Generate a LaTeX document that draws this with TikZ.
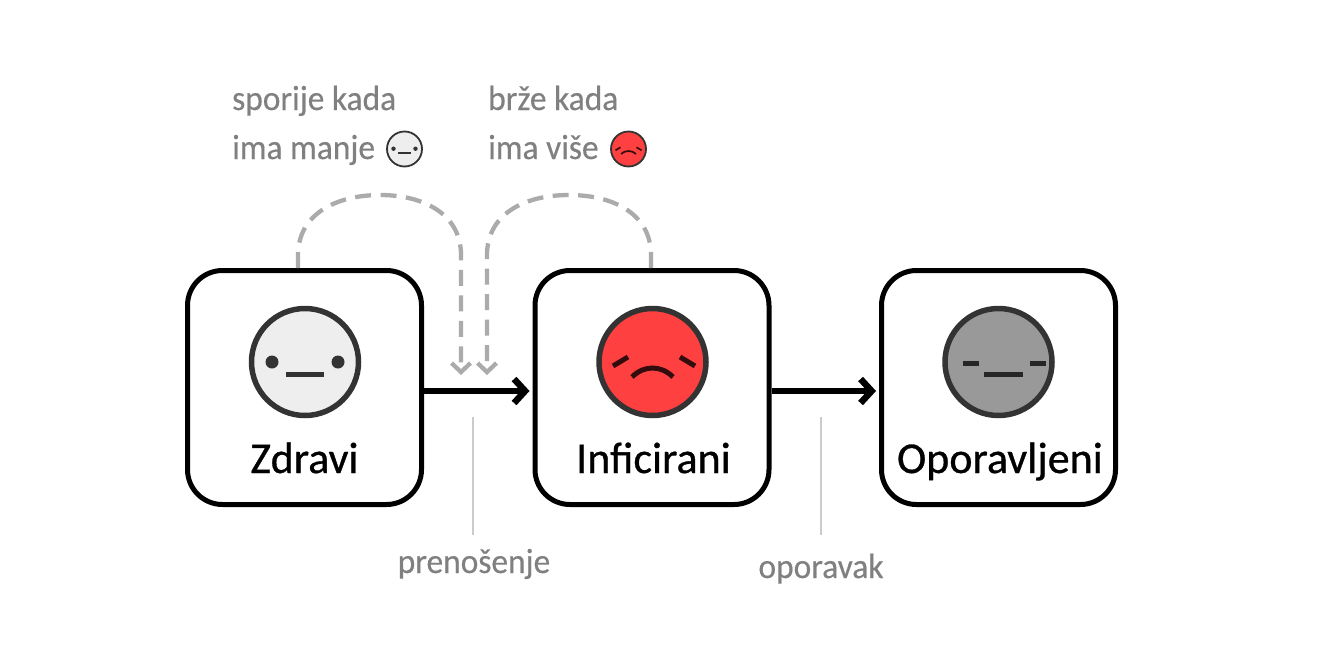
\documentclass[tikz,border=0pt]{standalone}
\usepackage{fontspec}
\setmainfont{Carlito}
\newfontfamily\notefont[FakeStretch=0.955,FakeBold=0.4]{Carlito}
\newfontfamily\titlefont[FakeBold=0.7]{Carlito}
\usetikzlibrary{arrows.meta}
\tikzset{
  boxnode/.style={draw=black,line width=5pt,fill=white,rounded corners=35pt,minimum width=234pt,minimum height=234pt,inner sep=0pt},
  facenode/.style={circle,draw=facedark,line width=5.5pt,minimum size=107pt,inner sep=0pt},
  smallface/.style={circle,draw=facedark,line width=1.8pt,minimum size=35pt,inner sep=0pt},
  bigtext/.style={anchor=base,font=\titlefont\fontsize{44}{44}\selectfont,text=black,inner sep=0pt},
  notetext/.style={anchor=base west,font=\notefont\fontsize{35}{35}\selectfont,text=notegray,inner sep=0pt},
  flowarrow/.style={line width=6.5pt,draw=black,-{Straight Barb[length=11pt,width=24pt]}},
  feedback/.style={line width=4.3pt,draw=dashgray,dash pattern=on 16pt off 9.5pt,-{Straight Barb[length=9pt,width=19pt]}},
  leader/.style={line width=1.4pt,draw=leadergray},
}
\definecolor{facedark}{HTML}{333333}
\definecolor{notegray}{HTML}{808080}
\definecolor{dashgray}{HTML}{ABABAB}
\definecolor{leadergray}{HTML}{CCCCCC}
\definecolor{healthy}{HTML}{EEEEEE}
\definecolor{sick}{HTML}{FF4040}
\definecolor{recovered}{HTML}{999999}
\begin{document}
\begin{tikzpicture}[x=1pt,y=-1pt]
\useasboundingbox (0,0) rectangle (1333,667);
\node[boxnode] (zd) at (304.5,387.5) {};
\node[boxnode] (in) at (652,387.5) {};
\node[boxnode] (op) at (998.5,387.5) {};
\coordinate (t1) at (461,375);
\coordinate (t2) at (487,375);
\coordinate (p1) at (473,417);
\coordinate (p2) at (821,417);
\draw[feedback] ([xshift=-6.5pt]zd.north) -- (298,255) .. controls (298,215) and (335,195) .. (380,195) .. controls (425,195) and (461,215) .. (461,255) -- (t1);
\draw[feedback] ([xshift=-1pt]in.north) -- (651,255) .. controls (651,215) and (615,195) .. (569,195) .. controls (523,195) and (487,215) .. (487,255) -- (t2);
\draw[flowarrow] ([yshift=-3.5pt]zd.east) -- ([yshift=-3.5pt,xshift=-3pt]in.west);
\draw[flowarrow] ([yshift=-3.5pt]in.east) -- ([yshift=-3.5pt,xshift=-3pt]op.west);
% large faces
\node[facenode,fill=healthy] (f1) at (305,362) {};
\fill[facedark] (272,362) circle (6.5pt) (338,362) circle (6.5pt);
\draw[facedark,line width=5pt] (286,374) -- (324,374);
\node[facenode,fill=sick] (f2) at (652.5,362) {};
\draw[black!80!sick,line width=5pt] (613,366) -- (628,357) (680,357) -- (695,366);
\draw[black!80!sick,line width=5pt] (632,377) .. controls (644,365) and (661,365) .. (673,377);
\node[facenode,fill=recovered] (f3) at (998.5,362) {};
\draw[black!85,line width=5pt] (963,363) -- (979,363) (984,374) -- (1023,374) (1030,363) -- (1046,363);
% small faces
\node[smallface,fill=healthy] (s1) at (404.5,149) {};
\fill[facedark] (393.5,148.7) circle (2.2pt) (415.5,148.7) circle (2.2pt);
\draw[facedark,line width=1.7pt] (398,152.7) -- (411,152.7);
\node[smallface,fill=sick] (s2) at (628.5,149) {};
\draw[black!80!sick,line width=1.7pt] (615.5,150.3) -- (620.5,147.3) (636.5,147.3) -- (641.5,150.3);
\draw[black!80!sick,line width=1.7pt] (621,154) .. controls (625,150) and (632,150) .. (636,154);
% box titles
\node[bigtext] (lz) at (304.5,473) {Zdravi};
\node[bigtext] (li) at (653.5,473) {Inficirani};
\node[bigtext] (lo) at (1000,473) {Oporavljeni};
% notes
\node[notetext] (n1) at (232,110) {sporije kada};
\node[notetext] (n2) at (232,159) {ima manje};
\node[notetext] (n3) at (488,110) {brže kada};
\node[notetext] (n4) at (488,159) {ima više};
\node[notetext,anchor=base] (lp) at (474,573) {prenošenje};
\node[notetext,anchor=base] (lr) at (821,578) {oporavak};
\draw[leader] (p1) -- (473,535);
\draw[leader] (p2) -- (821,535);
\end{tikzpicture}
\end{document}
